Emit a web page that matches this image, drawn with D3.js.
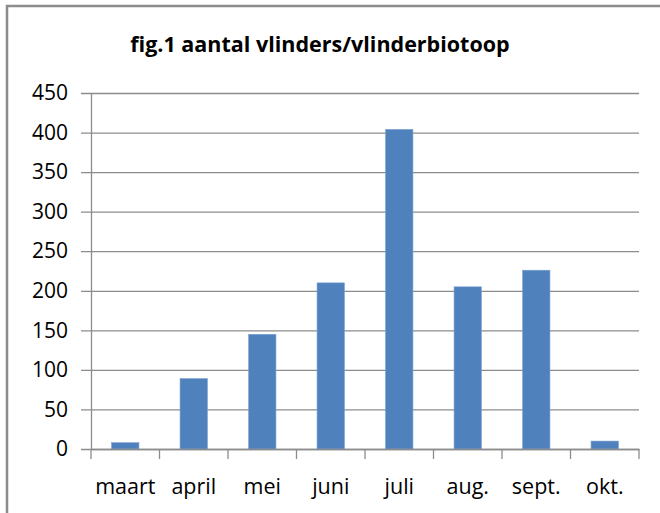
<!DOCTYPE html>
<html>
<head>
<meta charset="utf-8">
<script src="https://cdn.jsdelivr.net/npm/d3@7"></script>
<style>
  html, body { margin: 0; padding: 0; background: #fff; }
  svg { display: block; }
</style>
</head>
<body>
<script>
const title = "fig.1 aantal vlinders/vlinderbiotoop";
const categories = ["maart", "april", "mei", "juni", "juli", "aug.", "sept.", "okt."];
const values = [8, 89, 145, 210, 404, 205, 226, 10];
const yTicks = [0, 50, 100, 150, 200, 250, 300, 350, 400, 450];

const W = 660, H = 513;
const m = { left: 91, right: 21, top: 93, bottom: 64 };

const svg = d3.select("body").append("svg").attr("width", W).attr("height", H);
svg.append("rect").attr("width", W).attr("height", H).attr("fill", "#fff");

// outer frame (top and left edges visible)
svg.append("path")
  .attr("d", `M7,${H} L7,6 L${W},6`)
  .attr("fill", "none").attr("stroke", "#8c8c8c").attr("stroke-width", 2.5);

const x = d3.scaleBand().domain(categories).range([m.left, W - m.right]).paddingInner(0.6).paddingOuter(0.3);
const xb = d3.scaleBand().domain(categories).range([m.left, W - m.right]).padding(0);
const y = d3.scaleLinear().domain([0, 450]).range([H - m.bottom, m.top]);

const font = "'Open Sans', 'Liberation Sans', sans-serif";

// gridlines + y axis
const yAxis = d3.axisLeft(y).tickValues(yTicks).tickSize(-(W - m.right - m.left)).tickSizeOuter(0).tickPadding(14);
const gy = svg.append("g").attr("transform", `translate(${m.left},0)`).call(yAxis);
gy.select(".domain").attr("stroke", "#8c8c8c").attr("stroke-width", 1.3);
gy.selectAll(".tick line").attr("stroke", "#8c8c8c").attr("stroke-width", 1.3).attr("x1", -10);
gy.selectAll(".tick text").attr("fill", "#000").style("font-family", font).style("font-size", "21px").attr("x", -23);

// bars
svg.append("g").selectAll("rect").data(values).join("rect")
  .attr("x", (d, i) => x(categories[i]))
  .attr("width", x.bandwidth())
  .attr("y", d => y(d))
  .attr("height", d => y(0) - y(d))
  .attr("fill", "#4f81bd")
  .attr("stroke", "#7ea3d3")
  .attr("stroke-width", 0.6);

// x axis
const xAxis = d3.axisBottom(xb).tickSize(0).tickPadding(0);
const gx = svg.append("g").attr("transform", `translate(0,${H - m.bottom})`).call(xAxis);
gx.select(".domain").attr("stroke", "#8c8c8c").attr("stroke-width", 1.3);
gx.selectAll(".tick text").attr("fill", "#000").style("font-family", font).style("font-size", "21.5px").attr("dy", null).attr("y", 45);
// category separator ticks
const bounds = categories.map(c => xb(c)).concat([W - m.right]);
gx.selectAll("line.sep").data(bounds).join("line").attr("class", "sep")
  .attr("x1", d => d).attr("x2", d => d).attr("y1", 0).attr("y2", 10)
  .attr("stroke", "#8c8c8c").attr("stroke-width", 1.3);

// title
svg.append("text").attr("x", 320).attr("y", 52).attr("text-anchor", "middle")
  .style("font-family", font).style("font-size", "21.5px").style("font-weight", "bold")
  .attr("fill", "#000").text(title);
</script>
</body>
</html>
